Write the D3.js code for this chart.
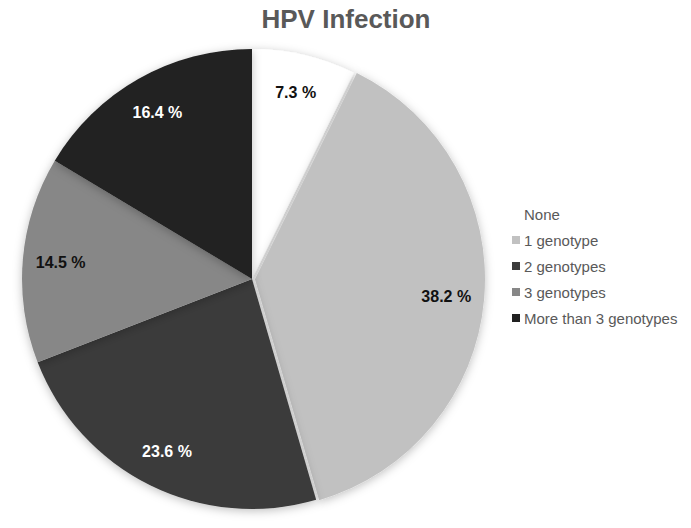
<!DOCTYPE html>
<html>
<head>
<meta charset="utf-8">
<script src="https://cdn.jsdelivr.net/npm/d3@7"></script>
<style>
  body { margin: 0; background: #fff; }
  svg { display: block; font-family: Arial, "Liberation Sans", sans-serif; }
</style>
</head>
<body>
<div class="chart"></div>
<script>
var categories = ["None", "1 genotype", "2 genotypes", "3 genotypes", "More than 3 genotypes"];
var values = [7.3, 38.2, 23.6, 14.5, 16.4];
var labels = ["7.3 %", "38.2 %", "23.6 %", "14.5 %", "16.4  %"];

var width = 691,
    height = 528,
    radius = 230,
    cx = 252,
    cy = 279;

var color = d3.scaleOrdinal()
    .domain(categories)
    .range(["#ffffff", "#c1c1c1", "#3b3b3b", "#878787", "#212121"]);

var textColor = d3.scaleOrdinal()
    .domain(categories)
    .range(["#111", "#111", "#fff", "#111", "#fff"]);

var arc = d3.arc()
    .outerRadius(radius)
    .innerRadius(0);

var labelArc = d3.arc()
    .outerRadius(192)
    .innerRadius(192);

var pie = d3.pie()
    .sort(null)
    .value(function(d) { return d; });

var svg = d3.select(".chart").append("svg")
    .attr("width", width)
    .attr("height", height);

var defs = svg.append("defs");
var filter = defs.append("filter")
    .attr("id", "shadow")
    .attr("x", "-20%").attr("y", "-20%")
    .attr("width", "140%").attr("height", "140%");
filter.append("feDropShadow")
    .attr("dx", 0).attr("dy", 2)
    .attr("stdDeviation", 5)
    .attr("flood-color", "#000")
    .attr("flood-opacity", 0.25);

svg.append("text")
    .attr("x", 346)
    .attr("y", 28)
    .attr("text-anchor", "middle")
    .style("font-size", "26px")
    .style("font-weight", "bold")
    .style("fill", "#595959")
    .text("HPV Infection");

var g = svg.append("g")
    .attr("transform", "translate(" + cx + "," + cy + ")");

var arcs = pie(values);

var slices = g.selectAll(".arc")
    .data(arcs)
    .enter().append("g")
    .attr("class", "arc")
    .attr("transform", function(d, i) {
      // the "1 genotype" slice is pulled out a little
      if (i !== 1) return null;
      var a = (d.startAngle + d.endAngle) / 2;
      return "translate(" + (Math.sin(a) * 3) + "," + (-Math.cos(a) * 3) + ")";
    });

slices.append("path")
    .attr("d", arc)
    .attr("filter", "url(#shadow)")
    .style("fill", function(d, i) { return color(categories[i]); });

slices.append("text")
    .attr("transform", function(d) { return "translate(" + labelArc.centroid(d) + ")"; })
    .attr("dy", ".35em")
    .attr("text-anchor", "middle")
    .style("font-size", "16px")
    .style("font-weight", "bold")
    .style("fill", function(d, i) { return textColor(categories[i]); })
    .text(function(d, i) { return labels[i]; });

var legend = svg.append("g")
    .attr("transform", "translate(512,215)");

var item = legend.selectAll(".item")
    .data(categories)
    .enter().append("g")
    .attr("class", "item")
    .attr("transform", function(d, i) { return "translate(0," + (i * 26) + ")"; });

item.append("rect")
    .attr("x", 0)
    .attr("y", -5)
    .attr("width", 8)
    .attr("height", 8)
    .style("fill", function(d) { return color(d); });

item.append("text")
    .attr("x", 12)
    .attr("y", 0)
    .attr("dy", ".35em")
    .style("font-size", "15px")
    .style("fill", "#595959")
    .text(function(d) { return d; });
</script>
</body>
</html>
